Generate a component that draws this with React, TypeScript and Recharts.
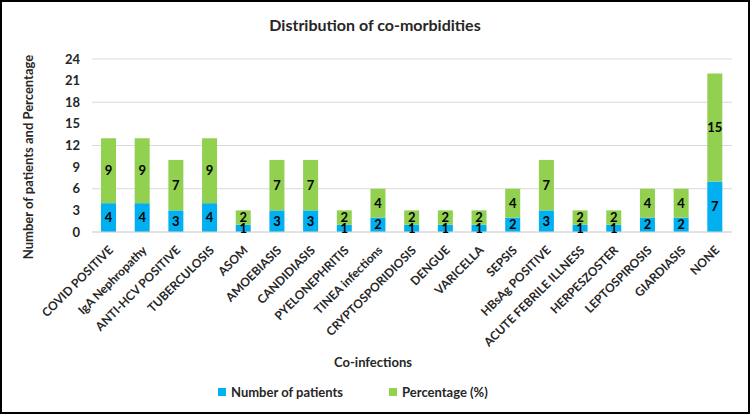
import React from "react";
import { BarChart, Bar, XAxis, YAxis, CartesianGrid, LabelList } from "recharts";

const categories = [
  "COVID POSITIVE", "IgA Nephropathy", "ANTI-HCV POSITIVE", "TUBERCULOSIS", "ASOM",
  "AMOEBIASIS", "CANDIDIASIS", "PYELONEPHRITIS", "TINEA infections", "CRYPTOSPORIDIOSIS",
  "DENGUE", "VARICELLA", "SEPSIS", "HBsAg POSITIVE", "ACUTE FEBRILE ILLNESS",
  "HERPESZOSTER", "LEPTOSPIROSIS", "GIARDIASIS", "NONE",
];
const patients = [4, 4, 3, 4, 1, 3, 3, 1, 2, 1, 1, 1, 2, 3, 1, 1, 2, 2, 7];
const percentage = [9, 9, 7, 9, 2, 7, 7, 2, 4, 2, 2, 2, 4, 7, 2, 2, 4, 4, 15];
const yTicks = [0, 3, 6, 9, 12, 15, 18, 21, 24];

const data = categories.map((name, i) => ({ name, patients: patients[i], percentage: percentage[i] }));

const FONT = "Lato, 'Open Sans', sans-serif";
const BLUE = "#00B0F0";
const GREEN = "#92D050";

const XTick = ({ x, y, payload }: any) => (
  <g transform={`translate(${x + 2},${y})`}>
    <text x={0} y={0} dy="0.35em" textAnchor="end" transform="rotate(-45)"
      fontSize={12} fontWeight={700} fill="#262626" fontFamily={FONT}>
      {payload.value}
    </text>
  </g>
);

export default function App() {
  return (
    <div style={{ position: "relative", width: 750, height: 414, boxSizing: "border-box", border: "2px solid #000", background: "#fff", fontFamily: FONT }}>
      <style>{"body{margin:0}"}</style>
      <div style={{ position: "absolute", left: 0, top: 13, width: 746, textAlign: "center", fontSize: 16, fontWeight: 700, color: "#262626" }}>
        Distribution of co-morbidities
      </div>
      <BarChart width={746} height={410} data={data} barSize={15}
        margin={{ top: 57, right: 16, bottom: 0, left: 0 }}>
        <CartesianGrid vertical={false} stroke="#d9d9d9" />
        <XAxis dataKey="name" interval={0} height={180} tickLine={false} axisLine={{ stroke: "#d9d9d9" }}
          tick={<XTick />} tickSize={0} tickMargin={16}
          label={{
            content: () => (
              <text x={371} y={360} dy="0.35em" textAnchor="middle" fontSize={13} fontWeight={700} fill="#262626" fontFamily={FONT}>
                Co-infections
              </text>
            ),
          }} />
        <YAxis width={90} domain={[0, 24]} ticks={yTicks} tickLine={false} axisLine={false} tickSize={0} tickMargin={12}
          tick={{ fontSize: 13, fontWeight: 700, fill: "#262626", fontFamily: FONT }}
          label={{
            content: () => (
              <text x={26} y={155} dy="0.35em" textAnchor="middle" transform="rotate(-90, 26, 155)"
                fontSize={13} fontWeight={700} fill="#262626" fontFamily={FONT}>
                Number of patients and Percentage
              </text>
            ),
          }} />
        <Bar dataKey="patients" stackId="a" fill={BLUE} isAnimationActive={false}>
          <LabelList dataKey="patients" position="center" fill="#000" fontSize={13} fontWeight={700} fontFamily={FONT} />
        </Bar>
        <Bar dataKey="percentage" stackId="a" fill={GREEN} isAnimationActive={false}>
          <LabelList dataKey="percentage" position="center" fill="#000" fontSize={13} fontWeight={700} fontFamily={FONT} />
        </Bar>
      </BarChart>
      <div style={{ position: "absolute", left: 216, top: 382, display: "flex", alignItems: "center", fontSize: 13, fontWeight: 700, color: "#262626" }}>
        <span style={{ width: 8, height: 8, background: BLUE, marginRight: 5 }} />
        <span style={{ marginRight: 46 }}>Number of patients</span>
        <span style={{ width: 8, height: 8, background: GREEN, marginRight: 5 }} />
        <span>Percentage (%)</span>
      </div>
    </div>
  );
}
